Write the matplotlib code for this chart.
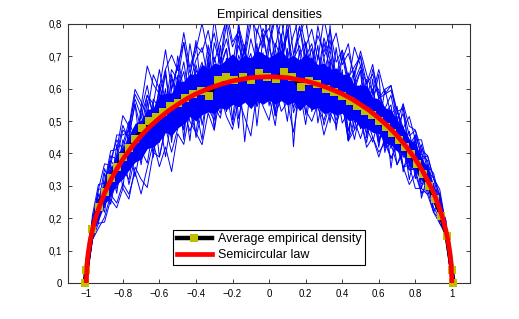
import numpy as np
import matplotlib
matplotlib.use("Agg")
import matplotlib.pyplot as plt

plt.rcParams['font.family'] = ['Liberation Sans', 'DejaVu Sans']

# ---------------- data ----------------
title_text = "Empirical densities"
legend_labels = ["Average empirical density", "Semicircular law"]

x_ticks = [-1, -0.8, -0.6, -0.4, -0.2, 0, 0.2, 0.4, 0.6, 0.8, 1]
x_tick_labels = ["\u22121", "\u22120.8", "\u22120.6", "\u22120.4", "\u22120.2", "0",
                 "0.2", "0.4", "0.6", "0.8", "1"]
y_ticks = [0, 0.1, 0.2, 0.3, 0.4, 0.5, 0.6, 0.7, 0.8]
y_tick_labels = ["0", "0,1", "0,2", "0,3", "0,4", "0,5", "0,6", "0,7", "0,8"]

# x grid of the individual empirical densities (61 bins)
grid_x = np.linspace(-1, 1, 61)
# typical level of the empirical densities on that grid
blue_center = [0.000, 0.163, 0.229, 0.278, 0.318, 0.352, 0.382, 0.409, 0.433, 0.455,
               0.475, 0.493, 0.509, 0.525, 0.539, 0.551, 0.563, 0.574, 0.584, 0.592,
               0.600, 0.607, 0.614, 0.619, 0.624, 0.628, 0.631, 0.634, 0.635, 0.636,
               0.637,
               0.636, 0.635, 0.634, 0.631, 0.628, 0.624, 0.619, 0.614, 0.607, 0.600,
               0.592, 0.584, 0.574, 0.563, 0.551, 0.539, 0.525, 0.509, 0.493, 0.475,
               0.455, 0.433, 0.409, 0.382, 0.352, 0.318, 0.278, 0.229, 0.163, 0.000]
# offsets below are expressed in this unit of density
dev_unit = 0.015
core_unit = 0.012
# dense core of the bundle (units above / below)
core_up = [0, 1, 2, 3, 3, 4, 3, 4, 5, 4,
           5, 4, 6, 5, 4, 6, 5, 6, 5, 7,
           5, 6, 5, 6, 7, 5, 6, 5, 7, 6,
           5, 6, 7, 5, 6, 5, 7, 6, 5, 6,
           5, 6, 5, 6, 4, 5, 6, 4, 5, 4,
           5, 4, 4, 3, 4, 3, 3, 2, 2, 1,
           0]
core_dn = [0, 1, 3, 3, 4, 4, 5, 5, 5, 6,
           5, 6, 6, 5, 7, 6, 6, 5, 7, 6,
           6, 7, 6, 7, 6, 7, 6, 8, 6, 7,
           6, 7, 6, 7, 6, 8, 6, 7, 6, 7,
           6, 6, 5, 6, 5, 6, 5, 5, 4, 5,
           4, 4, 3, 4, 3, 3, 2, 2, 2, 1,
           0]
# individual empirical densities: offsets (units) from blue_center
blue_deviations = [
    [0, 2, -3, 4, -2, 5, -6, 3, 8, -4, 6, -7, 2, 9, -3, 5, -8, 4, 11, -2,
     6, -9, 3, 7, -5, 12, -1, 4, -6, 9, 2, -8, 5, 10, -3, 6, -7, 1, 8, -4,
     13, -2, 5, -9, 3, 7, -6, 2, 9, -5, 4, -3, 8, -2, 5, -4, 3, -2, 3, -1, 0],
    [0, -1, 2, -4, 3, -5, 2, -7, -3, 6, -2, 4, -8, -3, 7, -1, -6, 3, -9, -4,
     5, -2, 8, -6, 1, -10, 4, -3, 7, -5, 3, -7, -2, 6, -14, 2, -4, 5, -8, -1,
     6, -5, 2, -9, 4, -3, -7, 1, -6, 3, -8, 2, -5, -2, 4, -6, 1, -4, 2, -2, 0],
    [0, 3, 5, 2, 6, 4, 9, 5, 11, 7, 3, 10, 6, 13, 4, 8, 12, 5, 9, 14,
     7, 11, 4, 15, 8, 10, 5, 13, 9, 14, 6, 12, 8, 15, 5, 9, 13, 4, 10, 7,
     12, 6, 9, 3, 11, 8, 5, 10, 4, 7, 9, 3, 8, 5, 6, 2, 5, 3, 4, 1, 0],
    [0, 1, -2, -1, 3, -3, 1, -4, 2, -6, 1, 3, -5, 2, -2, 6, -4, 0, 4, -7,
     -1, 3, -3, 5, -8, 2, 6, -2, -5, 3, 0, -4, 7, -1, 3, -6, 2, 5, -3, 1,
     -7, 4, 0, -2, 6, -4, 3, -1, -5, 2, 5, -3, 1, -6, 2, 0, -3, 1, -1, 1, 0],
    [0, -2, -4, -5, -3, -7, -5, -9, -6, -12, -8, -4, -10, -7, -13, -6, -9, -3, -8, -11,
     -5, -9, -2, -7, -10, -4, -8, -12, -3, -6, -9, -2, -7, -5, -11, -3, -6, -8, -4, -10,
     -5, -7, -2, -9, -6, -3, -8, -5, -7, -4, -6, -2, -5, -7, -3, -5, -2, -4, -3, -1, 0],
    [0, 2, 1, 5, -1, 3, 7, 2, -2, 5, 9, 1, 6, -3, 4, 8, 0, 11, 3, 6,
     -2, 9, 4, 12, 1, 7, 3, -4, 10, 6, 14, 2, 8, -1, 5, 11, 3, 7, 0, 9,
     4, -3, 8, 2, 6, 10, 1, 5, -2, 7, 3, 6, 0, 4, -1, 5, 2, 3, 1, 2, 0],
    [0, -1, 3, -2, -4, 2, -3, 5, -1, -5, 4, -6, -1, 5, -7, 3, 1, -9, 2, -4,
     7, -3, -6, 2, 5, -8, -2, 4, -10, 1, -5, 6, -2, -9, 3, -4, 8, -6, 1, -3,
     5, -8, 2, -1, -6, 4, -3, 7, -5, 0, -4, 3, -6, 1, -3, 4, -2, 2, -3, 0, 0],
    [0, 1, 4, 1, 5, 2, 6, 3, 8, 1, 7, 4, 10, 2, 8, 5, 12, 3, 7, 9,
     2, 14, 5, 9, 3, 11, 6, 16, 4, 10, 7, 13, 3, 9, 15, 5, 8, 2, 12, 6,
     10, 3, 7, 11, 4, 8, 1, 9, 5, 3, 7, 2, 6, 1, 5, 3, 4, 1, 3, 1, 0],
    [0, -2, 0, -3, 1, -4, -2, -6, 0, -3, -7, -1, -4, 2, -6, -3, 1, -5, -8, 0,
     -4, -7, 3, -2, -9, -1, -5, 2, -6, -3, -1, -8, -4, 1, -6, -2, -9, 0, -5, -7,
     -2, 1, -6, -3, -8, -1, -4, -6, 0, -5, -3, -6, -1, -4, -2, -5, -1, -3, -2, -1, 0],
    [0, 1, -1, 2, 4, 0, 3, 6, 1, 4, -1, 5, 2, 8, -2, 3, 6, -3, 5, 1,
     9, -1, 4, 7, -2, 5, 1, 8, 3, -4, 6, 2, 9, -2, 4, 7, 1, -3, 6, 3,
     8, 0, -4, 5, 2, 7, -1, 4, 6, 1, -2, 5, 3, -1, 4, 1, 3, 0, 2, 1, 0],
    [0, -2, -3, -6, -4, -8, -6, -10, -5, -9, -12, -6, -8, -3, -9, -5, -2, -7, -4, 0,
     -3, 2, -1, 4, -2, 3, 6, 1, 5, 8, 2, 7, 4, 9, 3, 11, 5, 8, 2, 10,
     6, 3, 9, 4, 7, 10, 5, 8, 4, 6, 9, 5, 7, 3, 6, 4, 5, 3, 3, 1, 0],
    [0, 2, 3, 0, 4, 6, 2, 5, 9, 4, 7, 2, 5, -2, 6, 3, 8, -1, 4, 2,
     -3, 6, 1, -5, 3, -1, 7, -4, 2, 5, -6, 1, -2, 4, -7, -3, 2, -5, 0, -8,
     -3, -6, -1, -9, -4, -7, -2, -5, -8, -3, -6, -2, -5, -3, -6, -4, -3, -4, -2, -1, 0],
    [0, 0, 2, -2, 2, -1, 4, 0, -4, 3, 0, -3, 7, 1, -1, 10, 2, -2, 6, 0,
     4, -6, 1, 3, -2, 9, -3, 0, 5, -1, 8, -4, 0, 12, -2, 4, -5, 3, -1, 6,
     -2, 9, 1, -4, 3, -1, 6, -3, 2, -6, 1, 4, -2, 2, -4, 2, -1, -2, 1, 0, 0],
    [0, -1, -2, 1, -5, -1, -4, 1, -7, -2, 2, -5, 0, -9, -2, 1, -6, 2, -3, -10,
     1, -4, -7, 0, -3, 2, -13, -1, -5, 1, -4, -10, 0, -2, 4, -6, -1, -3, 3, -5,
     -1, -4, 2, -7, 0, -3, -5, 1, -4, -2, 1, -6, -2, -4, 0, -3, -1, -2, -1, -1, 0],
    [0, 2, 4, 6, 3, 7, 5, 4, 10, 6, 13, 8, 5, 9, 11, 7, 14, 6, 10, 8,
     12, 5, 9, 13, 7, 10, 4, 11, 14, 8, 10, 6, 12, 4, 9, 13, 7, 11, 5, 14,
     8, 12, 6, 9, 5, 11, 7, 4, 10, 6, 8, 5, 3, 7, 4, 6, 3, 4, 2, 2, 0],
    [0, -1, 1, -1, 0, 2, -2, 1, 3, -1, 2, -2, 3, 0, -4, 4, -1, 2, -3, 5,
     -2, 1, -5, 3, 0, -4, 2, 5, -2, 0, -3, 4, -1, 2, -5, 0, 3, -2, 4, -1,
     2, -3, 4, -1, 0, -5, 2, -2, 3, -3, 0, 2, -3, 1, -1, 2, -2, 1, -1, 0, 0],
]

# average empirical density (marker positions)
avg_x = [-1.008, -1.0, -0.967, -0.933, -0.9, -0.867, -0.833, -0.8, -0.766, -0.731,
         -0.695, -0.658, -0.62, -0.581, -0.541, -0.5, -0.458, -0.415, -0.371, -0.327,
         -0.282, -0.236, -0.19, -0.145, -0.1, -0.054, -0.009, 0.036, 0.082, 0.127,
         0.173, 0.218, 0.264, 0.309, 0.354, 0.398, 0.441, 0.483, 0.524, 0.563,
         0.601, 0.638, 0.674, 0.709, 0.743, 0.776, 0.809, 0.842, 0.875, 0.908,
         0.94, 0.972, 1.0, 1.008]
avg_y = [0.0, 0.04, 0.168, 0.236, 0.282, 0.323, 0.358, 0.390, 0.418, 0.444,
         0.478, 0.500, 0.512, 0.528, 0.545, 0.556, 0.570, 0.585, 0.594, 0.578,
         0.627, 0.637, 0.627, 0.637, 0.627, 0.648, 0.637, 0.630, 0.652, 0.637,
         0.606, 0.624, 0.614, 0.600, 0.590, 0.576, 0.561, 0.548, 0.532, 0.518,
         0.500, 0.482, 0.463, 0.441, 0.420, 0.397, 0.366, 0.336, 0.300, 0.258,
         0.208, 0.145, 0.04, 0.0]

# semicircular law
semi_x = [-1.0, -0.995, -0.99, -0.98, -0.967, -0.95, -0.933, -0.9, -0.867, -0.833,
          -0.8, -0.75, -0.7, -0.65, -0.6, -0.55, -0.5, -0.45, -0.4, -0.35,
          -0.3, -0.25, -0.2, -0.15, -0.1, -0.05, 0.0,
          0.05, 0.1, 0.15, 0.2, 0.25, 0.3, 0.35, 0.4, 0.45, 0.5,
          0.55, 0.6, 0.65, 0.7, 0.75, 0.8, 0.833, 0.867, 0.9, 0.933,
          0.95, 0.967, 0.98, 0.99, 0.995, 1.0]
semi_y = [0.0, 0.064, 0.090, 0.127, 0.162, 0.199, 0.229, 0.278, 0.317, 0.352,
          0.382, 0.421, 0.455, 0.484, 0.509, 0.532, 0.551, 0.569, 0.584, 0.596,
          0.607, 0.616, 0.624, 0.629, 0.634, 0.636, 0.637,
          0.636, 0.634, 0.629, 0.624, 0.616, 0.607, 0.596, 0.584, 0.569, 0.551,
          0.532, 0.509, 0.484, 0.455, 0.421, 0.382, 0.352, 0.317, 0.278, 0.229,
          0.199, 0.162, 0.127, 0.090, 0.064, 0.0]

# ---------------- plot ----------------
fig = plt.figure(figsize=(5.19, 3.19), dpi=100)
ax = fig.add_axes([0.131, 0.113, 0.775, 0.812])

center = np.array(blue_center)
ax.fill_between(grid_x, center - core_unit * np.array(core_dn),
                center + core_unit * np.array(core_up),
                color='#0000ff', lw=0, zorder=1)
for dev in blue_deviations:
    ax.plot(grid_x, center + dev_unit * np.array(dev), color='#0000ff', lw=0.7, zorder=2)

avg_line, = ax.plot(avg_x, avg_y, color='black', lw=3.2, marker='s', markersize=5.6,
                    markeredgewidth=0, markerfacecolor='#bfbf00',
                    zorder=3, clip_on=False)
semi_line, = ax.plot(semi_x, semi_y, color='#ff0000', lw=3.4, zorder=4)

ax.set_xlim(-1.1, 1.1)
ax.set_ylim(0, 0.8)
ax.set_xticks(x_ticks)
ax.set_xticklabels(x_tick_labels)
ax.set_yticks(y_ticks)
ax.set_yticklabels(y_tick_labels)
ax.tick_params(direction='in', length=3, width=0.6, labelsize=7, top=True, right=True,
               colors='#222222', labelcolor='black', pad=4)
for sp in ax.spines.values():
    sp.set_linewidth(0.8)
    sp.set_color('#333333')

ax.set_title(title_text, fontsize=9, pad=4)

leg = ax.legend([avg_line, semi_line], legend_labels, loc='lower center',
                bbox_to_anchor=(0.5, 0.07), borderaxespad=0, fontsize=9,
                frameon=True, fancybox=False, framealpha=1, edgecolor='black',
                handlelength=2.8, handletextpad=0.5, borderpad=0.3, labelspacing=0.3)
leg.get_frame().set_linewidth(0.8)

fig.savefig("out.png", dpi=100)
